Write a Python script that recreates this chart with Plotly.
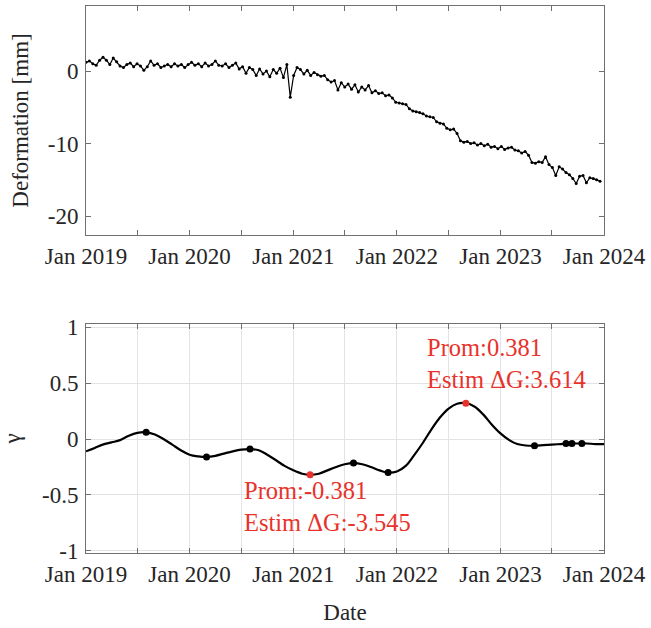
import pandas as pd
import plotly.graph_objects as go
from plotly.subplots import make_subplots

# Line-of-sight deformation, 12-day acquisitions starting 2019-01-01 [mm]
deformation = [
    # 2019
    1.2, 1.4, 1.0, 0.8, 1.5, 1.9, 1.5, 0.9, 1.8, 1.3, 0.7, 0.5, 0.9, 1.1, 0.6,
    1.0, 0.7, 0.1, 0.6, 1.4, 0.8, 1.0, 0.5, 0.7, 0.9, 0.6, 1.0, 0.7, 0.9, 0.5,
    # 2020
    0.9, 1.2, 0.8, 1.0, 0.6, 1.1, 0.7, 0.9, 1.4, 0.8, 0.7, 1.0, 0.5, 0.8, 1.1,
    0.3, 0.6, -0.3, 0.5, 0.2, -0.6, 0.3, -0.4, 0.0, -0.8, 0.2, -0.3, 0.4, -0.9, 0.9,
    -3.6,
    # 2021
    -0.6, 0.5, 0.2, -0.4, 0.1, -0.6, -0.2, -0.5, -0.7, -0.6, -1.2, -1.5, -1.3, -2.6, -1.6,
    -2.2, -1.8, -2.5, -1.9, -2.9, -2.2, -2.6, -2.0, -3.0, -2.7, -3.1, -3.0, -3.4, -3.3, -3.7,
    # 2022
    -4.3, -4.4, -4.5, -4.6, -5.2, -5.5, -5.6, -5.7, -5.9, -6.2, -6.3, -6.4, -7.0, -7.2, -7.3,
    -7.9, -8.1, -8.0, -8.6, -9.6, -9.8, -9.7, -10.0, -9.9, -10.2, -10.0, -10.3, -10.1, -10.5,
    -10.4, -10.7,
    # 2023
    -10.4, -10.8, -10.6, -10.5, -10.9, -11.0, -11.3, -11.1, -11.6, -12.6, -12.7, -12.5, -12.6,
    -11.8, -12.9, -13.3, -14.4, -13.2, -13.5, -14.0, -14.3, -14.8, -15.5, -14.5, -14.4, -15.4,
    -14.7, -14.8, -15.0, -15.2,
]

# Smoothed gamma index, monthly values Jan 2019 .. Jan 2024
gamma = [
    -0.11, -0.08, -0.05, -0.03, -0.01, 0.03, 0.055, 0.06, 0.04, 0.00, -0.05, -0.10,
    -0.14, -0.155, -0.16, -0.15, -0.13, -0.11, -0.095, -0.09, -0.10, -0.14, -0.19, -0.24,
    -0.28, -0.31, -0.32, -0.31, -0.28, -0.25, -0.225, -0.215, -0.225, -0.25, -0.28, -0.30,
    -0.29, -0.24, -0.15, -0.04, 0.08, 0.19, 0.27, 0.315, 0.32, 0.29, 0.22, 0.13,
    0.05, -0.01, -0.045, -0.058, -0.06, -0.055, -0.05, -0.045, -0.04, -0.04, -0.04, -0.045,
    -0.045,
]

# Detected extrema of gamma
extrema_dates = ["2019-08-01", "2020-03-01", "2020-08-01", "2021-03-01", "2021-08-01",
                 "2021-12-01", "2022-09-01", "2023-05-01", "2023-08-20", "2023-09-10",
                 "2023-10-15"]
extrema_values = [0.06, -0.16, -0.09, -0.32, -0.215, -0.30, 0.32, -0.06, -0.04, -0.04, -0.04]
extrema_major = [False, False, False, True, False, False, True, False, False, False, False]

# Prominence / estimated Delta G labels for the major extrema
label_dates = ["2020-07-05", "2022-04-10"]
label_gamma = [-0.6, 0.67]
label_prom = [-0.381, 0.381]
label_dg = [-3.545, 3.614]

tick_dates = [f"{y}-{m:02d}-01" for y in range(2019, 2024) for m in (1, 7)] + ["2024-01-01"]
tick_labels = [f"Jan {d[:4]}" if d[5:7] == "01" else "" for d in tick_dates]

def_dates = pd.date_range("2019-01-01", periods=len(deformation), freq="12D")
gamma_dates = pd.date_range("2019-01-01", periods=len(gamma), freq="MS")

FONT = "Liberation Serif"
RED = "#e8322b"
AXIS = "#707070"
TXT = "#262626"

fig = make_subplots(rows=2, cols=1, vertical_spacing=0.1628)

fig.add_trace(go.Scatter(
    x=def_dates, y=deformation, mode="lines+markers",
    line=dict(color="black", width=1.2), marker=dict(color="black", size=3),
    showlegend=False), row=1, col=1)

fig.add_trace(go.Scatter(
    x=gamma_dates, y=gamma, mode="lines", line=dict(color="black", width=2.2, shape="spline"),
    showlegend=False), row=2, col=1)

bx = [d for d, m in zip(extrema_dates, extrema_major) if not m]
by = [v for v, m in zip(extrema_values, extrema_major) if not m]
rx = [d for d, m in zip(extrema_dates, extrema_major) if m]
ry = [v for v, m in zip(extrema_values, extrema_major) if m]
fig.add_trace(go.Scatter(x=bx, y=by, mode="markers", marker=dict(color="black", size=7),
                         showlegend=False), row=2, col=1)
fig.add_trace(go.Scatter(x=rx, y=ry, mode="markers", marker=dict(color=RED, size=7),
                         showlegend=False), row=2, col=1)

for d, g, p, dg in zip(label_dates, label_gamma, label_prom, label_dg):
    fig.add_annotation(
        x=d, y=g, xref="x2", yref="y2", xanchor="left", yanchor="middle", align="left",
        showarrow=False, text=f"Prom:{p:.3f}<br>Estim \u0394G:{dg:.3f}",
        font=dict(family=FONT, size=24.5, color=RED))

common_x = dict(
    range=["2019-01-01", "2024-01-01"], tickvals=tick_dates, ticktext=tick_labels,
    ticks="inside", ticklen=5, tickcolor=AXIS, showline=True, linecolor=AXIS, linewidth=1,
    mirror="ticks", tickfont=dict(family=FONT, size=23, color=TXT), zeroline=False,
    automargin=False,
)
common_y = dict(
    ticks="inside", ticklen=5, tickcolor=AXIS, showline=True, linecolor=AXIS, linewidth=1,
    mirror="ticks", tickfont=dict(family=FONT, size=23, color=TXT), zeroline=False,
    ticklabelstandoff=2, automargin=False,
)

fig.update_xaxes(showgrid=False, **common_x, row=1, col=1)
fig.update_xaxes(showgrid=True, gridcolor="#e3e3e3", gridwidth=1, **common_x,
                 title=dict(text="Date", font=dict(family=FONT, size=23, color=TXT), standoff=18),
                 row=2, col=1)
fig.update_yaxes(showgrid=False, range=[-22.6, 8.97], tickvals=[-20, -10, 0],
                 ticktext=["-20", "-10", "0"],
                 title=dict(text="Deformation [mm]", font=dict(family=FONT, size=23, color=TXT),
                            standoff=12),
                 **common_y, row=1, col=1)
fig.update_yaxes(showgrid=True, gridcolor="#e3e3e3", gridwidth=1, range=[-1.018, 1.027],
                 tickvals=[-1, -0.5, 0, 0.5, 1], ticktext=["-1", "-0.5", "0", "0.5", "1"],
                 title=dict(text="\u03b3", font=dict(family=FONT, size=23, color=TXT),
                            standoff=17),
                 **common_y, row=2, col=1)

fig.update_layout(
    width=651, height=628, margin=dict(l=86, r=47, t=6, b=75),
    paper_bgcolor="white", plot_bgcolor="white",
    font=dict(family=FONT, color=TXT),
)

fig.write_html("out.html")
